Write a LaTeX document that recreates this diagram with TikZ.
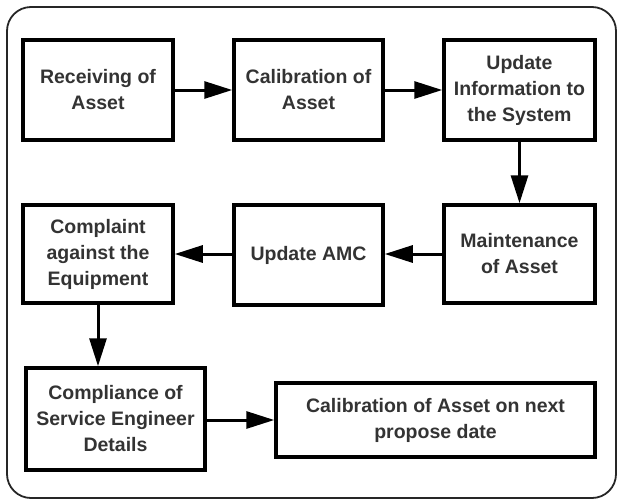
\documentclass[tikz,border=0pt]{standalone}
\usepackage{fontspec}
\setmainfont{Liberation Sans}
\usetikzlibrary{arrows.meta}
\definecolor{txt}{HTML}{333333}
\begin{document}
\begin{tikzpicture}[x=1pt,y=-1pt,
  box/.style={draw=black,line width=3.5pt,rectangle,align=center,inner sep=1pt,
    text=txt,font=\fontsize{19.5}{26}\selectfont\bfseries},
  arr/.style={line width=3pt,-{Triangle[length=28pt,width=17pt]}}]
\useasboundingbox (0,0) rectangle (620,501);
\draw[line width=1.8pt,rounded corners=24pt,draw=black!85] (7,7) rectangle (616,498);
\node[box,minimum width=150pt,minimum height=100pt] (b1) at (98,90) {Receiving of\\Asset};
\node[box,minimum width=149pt,minimum height=100pt] (b2) at (308.5,90) {Calibration of\\Asset};
\node[box,minimum width=151pt,minimum height=100pt] (b3) at (519.5,90) {Update\\Information to\\the System};
\node[box,minimum width=151pt,minimum height=98pt] (b4) at (519.5,254) {Maintenance\\of Asset};
\node[box,minimum width=149pt,minimum height=100pt] (b5) at (308.5,255) {Update AMC};
\node[box,minimum width=150pt,minimum height=98pt] (b6) at (98,254) {Complaint\\against the\\Equipment};
\node[box,minimum width=179pt,minimum height=102pt] (b7) at (115.5,419) {Compliance of\\Service Engineer\\Details};
\node[box,minimum width=319pt,minimum height=74pt] (b8) at (435.5,420) {Calibration of Asset on next\\propose date};
\draw[arr] (b1) -- (b2);
\draw[arr] (b2) -- (b3);
\draw[arr] (b3) -- (b4);
\draw[arr] (b4.west) -- (b5.east |- b4.west);
\draw[arr] (b5.west |- b4.west) -- (b6.east |- b4.west);
\draw[arr] (b6.south) -- (b6.south |- b7.north);
\draw[arr] (b7.east |- b8.west) -- (b8.west);
\end{tikzpicture}
\end{document}
